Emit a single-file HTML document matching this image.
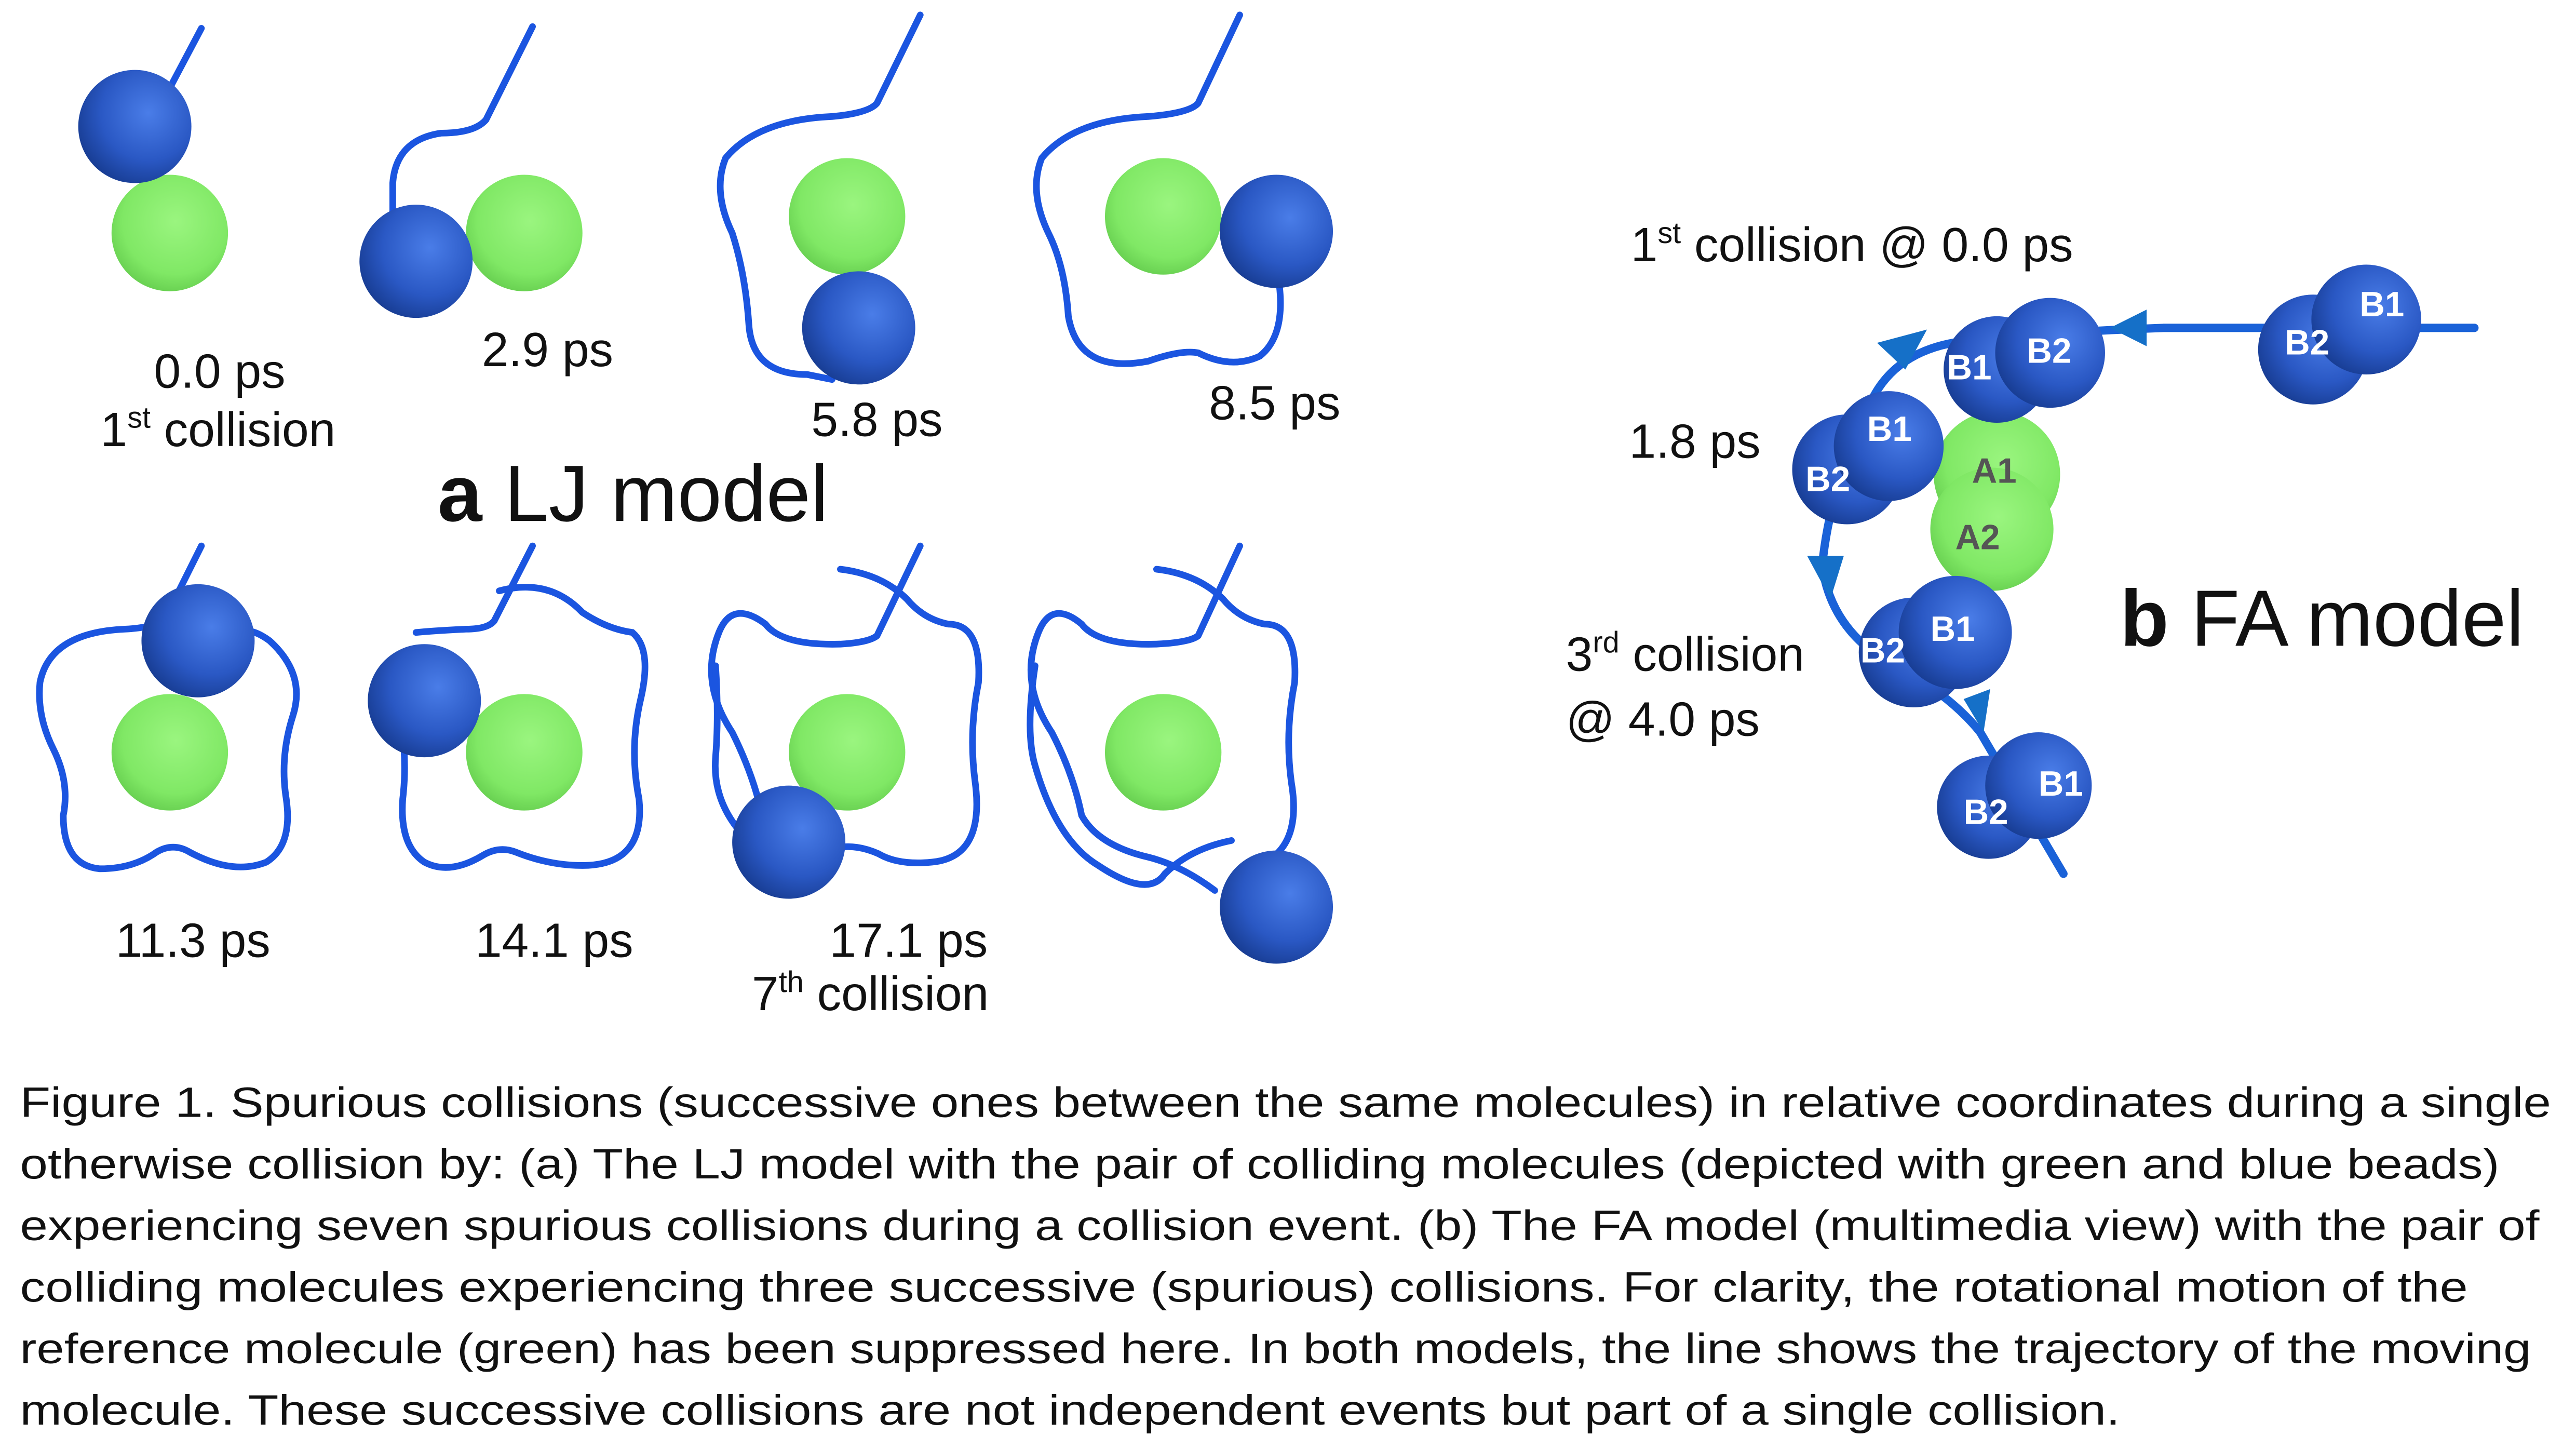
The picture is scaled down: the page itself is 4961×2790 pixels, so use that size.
<!DOCTYPE html>
<html><head><meta charset="utf-8"><style>
html,body{margin:0;padding:0;background:#fff;}
svg{display:block;}
text{font-family:"Liberation Sans",sans-serif;fill:#111;}
</style></head><body>
<svg width="4961" height="2790" viewBox="0 0 1548 870.6" xmlns="http://www.w3.org/2000/svg">
<defs>
<radialGradient id="gb" cx="0.62" cy="0.38" r="0.7">
<stop offset="0" stop-color="#4a7de8"/><stop offset="0.6" stop-color="#2a58c4"/><stop offset="1" stop-color="#163a8e"/></radialGradient>
<radialGradient id="gg" cx="0.55" cy="0.4" r="0.7">
<stop offset="0" stop-color="#9af57f"/><stop offset="0.65" stop-color="#80e865"/><stop offset="1" stop-color="#5cc447"/></radialGradient>
<marker id="ar" viewBox="0 0 10 10" refX="5" refY="5" markerWidth="1" markerHeight="1"/>
</defs>
<rect width="1548" height="871" fill="#fff"/>
<g fill="none" stroke="#1b55e0" stroke-width="4" stroke-linecap="round">
<!-- row1 -->
<path d="M121,17 L85,85"/>
<path d="M320,16 L292,72 Q285,80 265,80 Q238,84 236,110 L236,140"/>
<path d="M553,9 L527,62 Q522,68 500,70 Q455,72 436,95 Q428,115 440,140 Q448,165 450,195 Q452,225 485,225 L500,228"/>
<path d="M745,9 L720,62 Q715,68 690,70 Q645,72 626,95 Q618,115 630,140 Q640,160 642,190 Q648,225 690,217 Q710,210 720,212 Q740,222 757,214 Q775,200 767,160"/>
<!-- row2 -->
<path d="M121,328 L100,370 Q96,377 75,378 Q30,380 24,410 Q22,430 32,450 Q42,470 38,490 Q38,520 60,522 Q80,522 94,512 Q104,506 114,512 Q140,526 160,518 Q176,508 172,480 Q168,455 176,430 Q184,405 162,385 Q150,376 140,380"/>
<path d="M320,328 L297,373 Q293,378 280,378 Q260,379 250,380"/>
<path d="M300,355 Q330,347 350,368 Q365,378 380,380 Q392,390 385,420 Q378,450 384,480 Q388,520 350,520 Q330,520 310,512 Q300,508 290,514 Q270,526 255,518 Q240,508 242,480 Q245,455 240,430"/>
<path d="M553,328 L527,382 Q522,386 505,387 Q470,388 460,375 Q440,360 432,380 Q420,410 440,440 Q455,470 460,500"/>
<path d="M505,342 Q530,345 545,360 Q555,372 570,375 Q590,375 588,410 Q582,440 586,470 Q592,515 560,518 Q540,520 528,513 Q510,505 495,512"/>
<path d="M430,400 Q432,430 430,455 Q428,480 445,500"/>
<path d="M745,328 L720,382 Q715,386 695,387 Q660,388 650,375 Q632,360 624,380 Q612,410 632,440 Q645,465 650,490 Q660,508 690,515 Q710,520 730,535"/>
<path d="M695,342 Q720,345 735,360 Q745,372 760,375 Q780,375 778,410 Q772,440 776,470 Q782,505 762,517"/>
<path d="M622,400 Q616,440 622,460 Q635,505 660,520 Q690,540 700,525 Q715,510 740,505"/>
</g>
<!-- row1 spheres -->
<circle cx="102" cy="140" r="35" fill="url(#gg)"/><circle cx="81" cy="76" r="34" fill="url(#gb)"/>
<circle cx="315" cy="140" r="35" fill="url(#gg)"/><circle cx="250" cy="157" r="34" fill="url(#gb)"/>
<circle cx="509" cy="130" r="35" fill="url(#gg)"/><circle cx="516" cy="197" r="34" fill="url(#gb)"/>
<circle cx="699" cy="130" r="35" fill="url(#gg)"/><circle cx="767" cy="139" r="34" fill="url(#gb)"/>
<!-- row2 spheres -->
<circle cx="102" cy="452" r="35" fill="url(#gg)"/><circle cx="119" cy="385" r="34" fill="url(#gb)"/>
<circle cx="315" cy="452" r="35" fill="url(#gg)"/><circle cx="255" cy="421" r="34" fill="url(#gb)"/>
<circle cx="509" cy="452" r="35" fill="url(#gg)"/><circle cx="474" cy="506" r="34" fill="url(#gb)"/>
<circle cx="699" cy="452" r="35" fill="url(#gg)"/><circle cx="767" cy="545" r="34" fill="url(#gb)"/>
<!-- labels a -->
<g font-size="29" text-anchor="middle">
<text x="132" y="233">0.0 ps</text>
<text x="131" y="268">1<tspan font-size="18" dy="-11">st</tspan><tspan dy="11"> collision</tspan></text>
<text x="329" y="220">2.9 ps</text>
<text x="527" y="262">5.8 ps</text>
<text x="766" y="252">8.5 ps</text>
<text x="116" y="575">11.3 ps</text>
<text x="333" y="575">14.1 ps</text>
<text x="546" y="575">17.1 ps</text>
<text x="523" y="607">7<tspan font-size="18" dy="-11">th</tspan><tspan dy="11"> collision</tspan></text>
</g>
<text x="263" y="313" font-size="48"><tspan font-weight="bold">a</tspan> LJ model</text>
<!-- panel b -->
<g fill="none" stroke="#1a62d8" stroke-width="5" stroke-linecap="round">
<path d="M1487,197 L1300,197 Q1220,200 1180,205 Q1140,210 1125,240 Q1100,290 1095,340 Q1100,375 1130,395 Q1170,415 1190,440 L1240,525"/>
</g>
<g fill="#1570c8">
<polygon points="1290,186 1290,208 1268,197"/>
<polygon points="1158,198 1145,222 1128,206"/>
<polygon points="1086,334 1108,334 1100,360"/>
<polygon points="1180,420 1196,414 1192,440"/>
</g>
<g font-family="Liberation Sans" font-weight="bold" font-size="21" fill="#fff">
<circle cx="1390" cy="210" r="33" fill="url(#gb)"/><circle cx="1422" cy="192" r="33" fill="url(#gb)"/>
<text x="1373" y="213" style="fill:#fff">B2</text><text x="1418" y="190" style="fill:#fff">B1</text>
<circle cx="1200" cy="285" r="38" fill="url(#gg)"/><circle cx="1197" cy="318" r="37" fill="url(#gg)"/>
<text x="1185" y="290" style="fill:#555">A1</text><text x="1175" y="330" style="fill:#555">A2</text>
<circle cx="1200" cy="222" r="32" fill="url(#gb)"/><circle cx="1232" cy="212" r="33" fill="url(#gb)"/>
<text x="1170" y="228" style="fill:#fff">B1</text><text x="1218" y="218" style="fill:#fff">B2</text>
<circle cx="1110" cy="282" r="33" fill="url(#gb)"/><circle cx="1135" cy="268" r="33" fill="url(#gb)"/>
<text x="1085" y="295" style="fill:#fff">B2</text><text x="1122" y="265" style="fill:#fff">B1</text>
<circle cx="1150" cy="392" r="33" fill="url(#gb)"/><circle cx="1175" cy="380" r="34" fill="url(#gb)"/>
<text x="1118" y="398" style="fill:#fff">B2</text><text x="1160" y="385" style="fill:#fff">B1</text>
<circle cx="1195" cy="485" r="31" fill="url(#gb)"/><circle cx="1225" cy="472" r="32" fill="url(#gb)"/>
<text x="1180" y="495" style="fill:#fff">B2</text><text x="1225" y="478" style="fill:#fff">B1</text>
</g>
<g font-size="29">
<text x="980" y="157">1<tspan font-size="18" dy="-11">st</tspan><tspan dy="11"> collision @ 0.0 ps</tspan></text>
<text x="979" y="275">1.8 ps</text>
<text x="941" y="403">3<tspan font-size="18" dy="-11">rd</tspan><tspan dy="11"> collision</tspan></text>
<text x="941" y="442">@ 4.0 ps</text>
</g>
<text x="1274" y="388" font-size="48"><tspan font-weight="bold">b</tspan> FA model</text>
<!-- caption -->
<g font-size="25.5">
<text x="12" y="671" textLength="1521" lengthAdjust="spacingAndGlyphs">Figure 1. Spurious collisions (successive ones between the same molecules) in relative coordinates during a single</text>
<text x="12" y="708" textLength="1490" lengthAdjust="spacingAndGlyphs">otherwise collision by: (a) The LJ model with the pair of colliding molecules (depicted with green and blue beads)</text>
<text x="12" y="745" textLength="1514" lengthAdjust="spacingAndGlyphs">experiencing seven spurious collisions during a collision event. (b) The FA model (multimedia view) with the pair of</text>
<text x="12" y="782" textLength="1471" lengthAdjust="spacingAndGlyphs">colliding molecules experiencing three successive (spurious) collisions. For clarity, the rotational motion of the</text>
<text x="12" y="819" textLength="1509" lengthAdjust="spacingAndGlyphs">reference molecule (green) has been suppressed here. In both models, the line shows the trajectory of the moving</text>
<text x="12" y="856" textLength="1262" lengthAdjust="spacingAndGlyphs">molecule. These successive collisions are not independent events but part of a single collision.</text>
</g>
</svg>
</body></html>
